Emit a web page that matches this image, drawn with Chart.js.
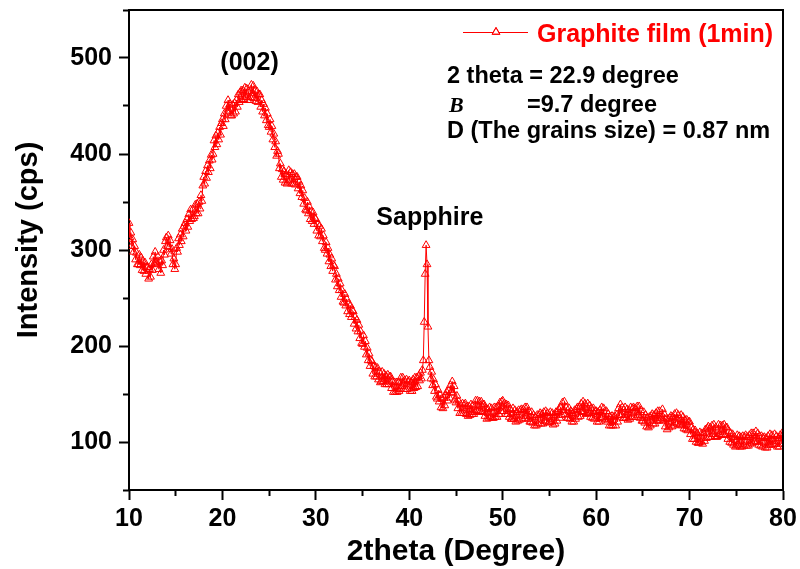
<!DOCTYPE html>
<html>
<head>
<meta charset="utf-8">
<script src="https://cdn.jsdelivr.net/npm/chart.js@4.4.1/dist/chart.umd.min.js"></script>
<style>
  html, body { margin: 0; padding: 0; background: #fff; }
  #c { display: block; }
</style>
</head>
<body>
<canvas id="c" width="800" height="569"></canvas>
<script>
// XRD scan of the graphite film: 2theta from 10 to 80 degree, 0.1 degree step
const scanStart = 10;
const scanStep = 0.1;

// Intensity (cps), one row per degree (x.0 ... x.9)
const intensity = [
  328, 313, 318, 304, 311, 298, 304, 290, 297, 285,   // 10
  285, 295, 284, 292, 279, 288, 278, 287, 275, 282,   // 11
  282, 270, 280, 272, 285, 279, 293, 286, 298, 287,   // 12
  285, 293, 280, 288, 276, 289, 284, 300, 295, 309,   // 13
  313, 304, 315, 303, 310, 296, 301, 285, 291, 280,   // 14
  285, 302, 298, 312, 305, 316, 309, 322, 314, 325,   // 15
  328, 320, 332, 324, 337, 330, 342, 332, 342, 333,   // 16
  335, 347, 338, 348, 338, 350, 343, 357, 351, 367,   // 17
  376, 369, 382, 375, 388, 381, 393, 385, 399, 394,   // 18
  400, 414, 407, 419, 410, 422, 415, 428, 420, 432,   // 19
  436, 429, 442, 436, 450, 444, 456, 445, 452, 440,   // 20
  440, 451, 442, 453, 444, 456, 449, 462, 454, 464,   // 21
  466, 456, 466, 457, 469, 459, 468, 456, 465, 456,   // 22
  459, 472, 463, 471, 458, 466, 455, 465, 454, 462,   // 23
  462, 449, 456, 444, 452, 440, 448, 435, 442, 430,   // 24
  428, 436, 423, 429, 415, 421, 407, 413, 398, 403,   // 25
  400, 385, 390, 376, 384, 373, 382, 370, 379, 369,   // 26
  371, 383, 373, 381, 369, 379, 369, 379, 368, 376,   // 27
  376, 364, 371, 359, 367, 355, 362, 348, 354, 342,   // 28
  341, 350, 338, 345, 332, 340, 330, 339, 327, 333,   // 29
  332, 320, 327, 315, 325, 314, 322, 309, 315, 302,   // 30
  300, 308, 296, 302, 288, 295, 283, 291, 278, 284,   // 31
  283, 269, 275, 262, 270, 258, 265, 251, 258, 246,   // 32
  245, 254, 242, 249, 236, 244, 233, 242, 230, 237,   // 33
  236, 223, 230, 218, 227, 215, 222, 208, 215, 203,   // 34
  202, 211, 199, 205, 191, 198, 185, 192, 179, 185,   // 35
  184, 171, 179, 168, 178, 168, 177, 165, 173, 162,   // 36
  163, 173, 163, 171, 160, 169, 160, 170, 160, 168,   // 37
  168, 156, 163, 152, 162, 152, 162, 152, 162, 153,   // 38
  155, 167, 158, 167, 155, 164, 155, 165, 155, 163,   // 39
  164, 153, 162, 153, 165, 156, 167, 157, 167, 158,   // 40
  168, 164, 172, 166, 175, 185, 225, 275, 305, 285,   // 41
  220, 185, 178, 166, 173, 159, 165, 153, 160, 147,   // 42
  145, 154, 142, 149, 136, 145, 135, 146, 138, 149,   // 43
  152, 143, 154, 146, 159, 152, 163, 151, 158, 144,   // 44
  141, 148, 135, 142, 130, 139, 130, 140, 130, 139,   // 45
  140, 129, 137, 127, 137, 128, 139, 129, 138, 129,   // 46
  131, 143, 133, 143, 132, 142, 132, 142, 131, 139,   // 47
  139, 127, 135, 124, 134, 125, 136, 126, 135, 125,   // 48
  125, 136, 126, 136, 126, 137, 129, 141, 132, 142,   // 49
  143, 132, 140, 129, 139, 129, 138, 126, 134, 124,   // 50
  124, 135, 124, 133, 121, 131, 122, 133, 123, 133,   // 51
  134, 124, 134, 125, 136, 127, 136, 124, 132, 121,   // 52
  121, 131, 120, 128, 117, 126, 117, 128, 119, 128,   // 53
  130, 119, 129, 119, 131, 122, 132, 121, 130, 120,   // 54
  121, 131, 121, 130, 118, 128, 119, 131, 122, 132,   // 55
  134, 125, 136, 128, 141, 133, 142, 129, 136, 125,   // 56
  125, 135, 124, 132, 121, 130, 121, 133, 124, 134,   // 57
  136, 126, 136, 127, 140, 132, 142, 131, 140, 129,   // 58
  130, 140, 130, 138, 126, 135, 125, 135, 124, 132,   // 59
  132, 121, 131, 121, 133, 125, 136, 126, 135, 124,   // 60
  123, 132, 121, 129, 117, 126, 117, 127, 117, 126,   // 61
  127, 117, 128, 121, 135, 128, 139, 128, 136, 125,   // 62
  125, 136, 125, 134, 123, 133, 124, 136, 126, 135,   // 63
  136, 126, 135, 126, 137, 128, 137, 125, 133, 122,   // 64
  122, 131, 120, 128, 116, 125, 115, 126, 117, 127,   // 65
  129, 119, 128, 119, 130, 122, 132, 122, 132, 123,   // 66
  125, 134, 122, 129, 116, 124, 113, 124, 115, 125,   // 67
  127, 116, 126, 117, 129, 120, 130, 119, 128, 118,   // 68
  118, 128, 117, 126, 114, 123, 113, 123, 112, 121,   // 69
  121, 108, 115, 103, 113, 103, 112, 100, 109, 99,    // 70
  99, 110, 100, 109, 98, 109, 101, 113, 104, 114,     // 71
  116, 105, 115, 105, 117, 108, 118, 106, 115, 105,   // 72
  106, 118, 108, 117, 107, 117, 108, 118, 107, 115,   // 73
  115, 103, 111, 100, 109, 99, 108, 97, 105, 95,      // 74
  96, 107, 97, 106, 95, 105, 95, 106, 96, 105,        // 75
  107, 96, 105, 96, 107, 98, 109, 99, 109, 100,       // 76
  101, 111, 100, 109, 97, 106, 96, 106, 95, 104,      // 77
  105, 94, 104, 94, 106, 97, 108, 97, 107, 97,        // 78
  98, 108, 98, 106, 95, 104, 95, 107, 98, 109,        // 79
  108                                                 // 80
];

const twoTheta = intensity.map((_, i) => Math.round((scanStart + i * scanStep) * 10) / 10);

// Axis ticks
const xMajorTicks = [10, 20, 30, 40, 50, 60, 70, 80];
const xMinorTicks = [15, 25, 35, 45, 55, 65, 75];
const yMajorTicks = [100, 200, 300, 400, 500];
const yMinorTicks = [50, 150, 250, 350, 450, 550];

// Texts
const seriesName = 'Graphite film (1min)';
const xTitle = '2theta (Degree)';
const yTitle = 'Intensity (cps)';
const peakLabels = [
  { text: '(002)', x: 22.9, y: 488 },
  { text: 'Sapphire', x: 42.2, y: 326 }
];
const infoLines = [
  '2 theta = 22.9 degree',
  '=9.7 degree',
  'D (The grains size) = 0.87 nm'
];

const SANS = "'Liberation Sans', Arial, Helvetica, sans-serif";
const SERIF = "'Liberation Serif', 'Times New Roman', serif";
const RED = '#ff0000';

const setTicks = list => scale => { scale.ticks = list.map(v => ({ value: v })); };

const decorations = {
  id: 'decorations',
  afterDraw(chart) {
    const { ctx, chartArea: a, scales } = chart;
    ctx.save();

    // frame: top and right sides
    ctx.strokeStyle = '#000';
    ctx.lineWidth = 2;
    ctx.beginPath();
    ctx.moveTo(a.left, a.top);
    ctx.lineTo(a.right, a.top);
    ctx.lineTo(a.right, a.bottom);
    ctx.stroke();

    // y axis title
    ctx.fillStyle = '#000';
    ctx.font = `bold 29px ${SANS}`;
    ctx.textAlign = 'center';
    ctx.textBaseline = 'alphabetic';
    ctx.save();
    ctx.translate(37, 240);
    ctx.rotate(-Math.PI / 2);
    ctx.fillText(yTitle, 0, 0);
    ctx.restore();

    // peak labels
    ctx.font = `bold 25px ${SANS}`;
    ctx.textAlign = 'center';
    peakLabels.forEach(p => {
      ctx.fillText(p.text, scales.x.getPixelForValue(p.x), scales.y.getPixelForValue(p.y));
    });

    // legend sample
    ctx.strokeStyle = RED;
    ctx.lineWidth = 1;
    ctx.beginPath();
    ctx.moveTo(463, 32.5);
    ctx.lineTo(528, 32.5);
    ctx.stroke();
    ctx.fillStyle = '#fff';
    Chart.helpers.drawPoint(ctx, { pointStyle: 'triangle', radius: 4.5, rotation: 0, borderWidth: 1 }, 496, 32);
    ctx.stroke();
    ctx.fillStyle = RED;
    ctx.font = `bold 25px ${SANS}`;
    ctx.textAlign = 'left';
    ctx.fillText(seriesName, 537, 42);

    // crystallite size info
    ctx.fillStyle = '#000';
    ctx.font = `bold 23.5px ${SANS}`;
    ctx.fillText(infoLines[0], 447, 83);
    ctx.fillText(infoLines[1], 527, 112);
    ctx.fillText(infoLines[2], 447, 138);
    ctx.font = `italic bold 22px ${SERIF}`;
    ctx.fillText('B', 449, 112);

    ctx.restore();
  }
};

new Chart(document.getElementById('c'), {
  type: 'line',
  data: {
    datasets: [{
      label: seriesName,
      data: twoTheta.map((x, i) => ({ x, y: intensity[i] })),
      xAxisID: 'x',
      yAxisID: 'y',
      borderColor: RED,
      borderWidth: 1,
      pointStyle: 'triangle',
      pointRadius: 4.5,
      pointBorderWidth: 1,
      pointBorderColor: RED,
      pointBackgroundColor: 'rgba(255,255,255,0)',
      tension: 0,
      clip: 0
    }]
  },
  options: {
    responsive: false,
    animation: false,
    layout: { padding: { left: 0, right: 17, top: 10, bottom: 0 } },
    plugins: { legend: { display: false }, tooltip: { enabled: false } },
    scales: {
      x: {
        type: 'linear', position: 'bottom', min: 10, max: 80,
        afterBuildTicks: setTicks(xMajorTicks),
        ticks: { color: '#000', padding: 4, maxRotation: 0, autoSkip: false,
                 font: { family: SANS, size: 25, weight: 'bold' } },
        grid: { drawOnChartArea: false, drawTicks: true, tickLength: 10, tickWidth: 2, tickColor: '#000' },
        border: { display: true, color: '#000', width: 2 },
        title: { display: true, text: xTitle, color: '#000',
                 font: { family: SANS, size: 30, weight: 'bold', lineHeight: 1 },
                 padding: { top: 0, bottom: 2 } },
        afterFit: s => { s.height = 79; s.paddingLeft = 0; s.paddingRight = 0; }
      },
      y: {
        type: 'linear', position: 'left', min: 50, max: 550,
        afterBuildTicks: setTicks(yMajorTicks),
        ticks: { color: '#000', padding: 7,
                 font: { family: SANS, size: 25, weight: 'bold' } },
        grid: { drawOnChartArea: false, drawTicks: true, tickLength: 10, tickWidth: 2, tickColor: '#000' },
        border: { display: true, color: '#000', width: 2 },
        afterFit: s => { s.width = 129; s.paddingTop = 0; s.paddingBottom = 0; }
      },
      xMinor: {
        type: 'linear', axis: 'x', position: { y: 50 }, min: 10, max: 80,
        afterBuildTicks: setTicks(xMinorTicks),
        ticks: { display: false },
        grid: { drawOnChartArea: false, drawTicks: true, tickLength: 6, tickWidth: 2, tickColor: '#000' },
        border: { display: false }
      },
      yMinor: {
        type: 'linear', axis: 'y', position: { x: 10 }, min: 50, max: 550,
        afterBuildTicks: setTicks(yMinorTicks),
        ticks: { display: false },
        grid: { drawOnChartArea: false, drawTicks: true, tickLength: 6, tickWidth: 2, tickColor: '#000' },
        border: { display: false }
      }
    }
  },
  plugins: [decorations]
});
</script>
</body>
</html>
